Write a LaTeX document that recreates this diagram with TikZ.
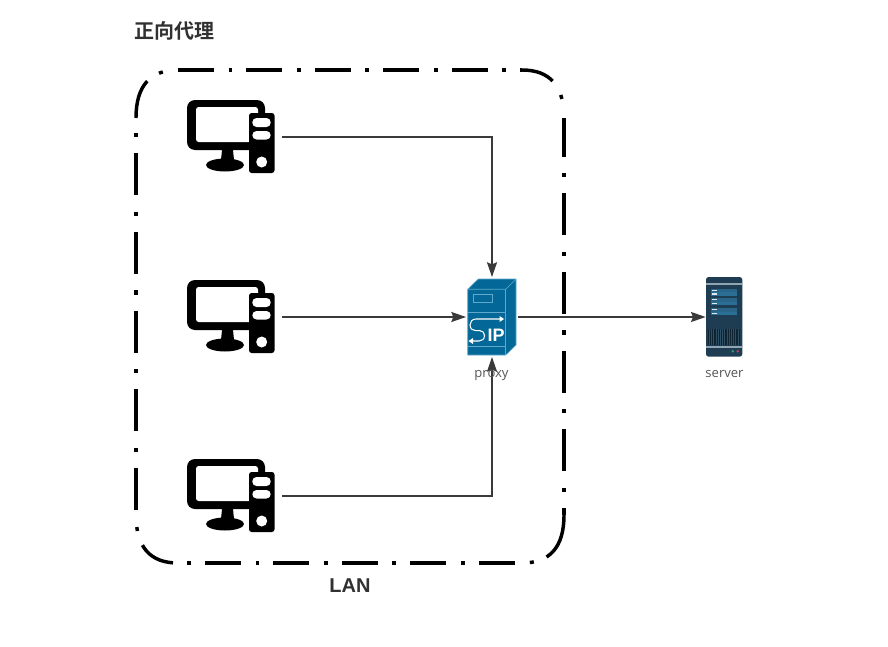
\documentclass[tikz,border=0pt]{standalone}
\usepackage{fontspec}
\setmainfont{Liberation Sans}
\newfontfamily\cjkbold[BoldFont=Noto Sans CJK SC Bold]{Noto Sans CJK SC}
\newfontfamily\labelfont{Open Sans}
\usetikzlibrary{arrows.meta}
\definecolor{inkdark}{HTML}{3A3A3A}
\definecolor{labelgrey}{HTML}{555555}
\definecolor{proxyblue}{HTML}{036897}
\definecolor{proxyedge}{HTML}{5FA9CC}
\definecolor{serverbody}{HTML}{1F3D52}
\definecolor{serverline}{HTML}{8FA5B2}
\definecolor{serverrow}{HTML}{2B6F96}
\definecolor{ventdark}{HTML}{0F2433}
\definecolor{ventline}{HTML}{2F4F64}
\definecolor{ledgreen}{HTML}{2E9E7A}
\definecolor{ledred}{HTML}{C0405A}
\tikzset{
  x=0.75pt,y=-0.75pt,
  hub/.style={inner sep=0pt,outer sep=0pt,minimum width=39pt,minimum height=60pt},
  pcbox/.style={inner sep=0pt,outer sep=0pt,minimum width=76.5pt,minimum height=56pt},
  srvbox/.style={inner sep=0pt,outer sep=0pt,minimum width=27.5pt,minimum height=60pt},
  link/.style={draw=inkdark,line width=1.2pt,-{Stealth[length=11pt,width=7.5pt,inset=1.5pt]}},
  caption/.style={inner sep=0pt,anchor=base,text=labelgrey,font=\labelfont\fontsize{9.8pt}{11pt}\selectfont},
  heading/.style={inner sep=0pt,text=inkdark!85!black},
  lanh/.style={draw=black,line width=2.8pt},
  lanv/.style={draw=black,line width=2.6pt},
  thinw/.style={draw=white,line width=0.8pt,line cap=round,line join=round},
}
\newcommand{\pcicon}[1]{%
  \begin{scope}[shift={(0,#1)}]
    \fill[black,rounded corners=6pt] (187,100) rectangle (265,150);
    \fill[white,rounded corners=2pt] (196,107) rectangle (258,142);
    \fill[black] (222,150) -- (233,150) -- (234,160) -- (221,160) -- cycle;
    \fill[black] (225,165) ellipse [x radius=19,y radius=6.5];
    \fill[black,rounded corners=2pt] (249,113) rectangle (274.5,173);
    \fill[white,rounded corners=3.2pt] (252.3,118) rectangle (270.7,127);
    \fill[white,rounded corners=3.2pt] (252.3,131) rectangle (270.7,139.5);
    \fill[white] (261.7,162) circle [radius=5.5];
  \end{scope}}
\begin{document}
\begin{tikzpicture}
\useasboundingbox (0,0) rectangle (888,646);
\fill[white] (0,0) rectangle (888,646);

% LAN boundary: sides
\draw[lanh,dash pattern=on 27pt off 10.9pt on 2.95pt off 10.5pt] (178,70) -- (522,70);
\draw[lanh,dash pattern=on 27pt off 10.9pt on 2.95pt off 10.5pt,dash phase=31.125pt] (178,563) -- (522,563);
\draw[lanv,dash pattern=on 31.5pt off 12.3pt on 3.08pt off 12.15pt,dash phase=2.55pt] (564,118) -- (564,515);
\draw[lanv,dash pattern=on 31.5pt off 12.3pt on 3.08pt off 12.15pt,dash phase=32.55pt] (136,118) -- (136,515);
% LAN boundary: corners
\draw[lanv,dash pattern=on 29.6pt off 10.7pt on 3pt off 80pt] (136,118) .. controls (136,86) and (150,70) .. (178,70);
\draw[lanv,dash pattern=on 25.1pt off 12.2pt on 3.1pt off 80pt] (522,70) .. controls (550,70) and (564,86) .. (564,118);
\draw[lanv,dash pattern=on 35.6pt off 10.3pt on 3pt off 80pt] (564,515) .. controls (564,547) and (550,563) .. (522,563);
\draw[lanv,dash pattern=on 0pt off 3.75pt on 27.7pt off 11.3pt on 3pt off 80pt] (178,563) .. controls (150,563) and (136,547) .. (136,515);

% Computers
\pcicon{0}\pcicon{180}\pcicon{359}
\node[pcbox] (pc1) at (231,137) {};
\node[pcbox] (pc2) at (231,317) {};
\node[pcbox] (pc3) at (231,496) {};

% Proxy icon
\fill[proxyblue] (467.7,289.3) -- (478.3,279) -- (516,279) -- (516,345) -- (505.7,355) -- (467.7,355) -- cycle;
\begin{scope}[draw=proxyedge,line width=0.5pt]
  \draw (467.7,355) -- (467.7,289.3) -- (478.3,279) -- (516,279) -- (516,345) -- (505.7,355) -- cycle;
  \draw (467.7,289.3) -- (505.7,289.3) -- (516,279);
  \draw (505.7,289.3) -- (505.7,355);
  \draw (473.3,294.7) rectangle (492.3,302.7);
  \draw (467.7,312) -- (505.7,312);
  \draw (467.7,346) -- (505.7,346);
\end{scope}
\draw[thinw] (501,319) -- (476,319) .. controls (472,319) and (470,322) .. (470,325)
  .. controls (470,329) and (473,330.7) .. (476,330.7) -- (480,330.7)
  .. controls (483,330.7) and (484.5,333) .. (484.5,335.7)
  .. controls (484.5,339) and (482,341) .. (479,341) -- (472,341);
\fill[white] (504,319) -- (499.5,316) -- (499.5,322) -- cycle;
\fill[white] (468.5,341) -- (473,338) -- (473,344) -- cycle;
\node[inner sep=0pt,text=white,font=\bfseries\fontsize{13.5pt}{14pt}\selectfont] (iptext) at (496,335.8) {IP};
\node[hub] (proxy) at (492,317) {};

% Server icon
\fill[serverbody,rounded corners=2pt] (706,277) rectangle (742.3,356.7);
\fill[serverline] (706,283) rectangle (742.3,284.6);
\fill[serverline] (706,346) rectangle (742.3,347.6);
\fill[serverrow!80!serverbody] (711,288.7) rectangle (737.3,296);
\fill[serverrow!80!serverbody] (711,298) rectangle (737.3,305.3);
\fill[serverrow!80!serverbody] (711,308) rectangle (737.3,315.3);
\foreach \yy in {292.3,301.6,311.6}
  \fill[serverrow] (711,\yy) rectangle (737.3,\yy+3.7);
\foreach \yy in {290.3,294,299.6,303.3,309.6,313.3}
  \fill[white!85!serverrow] (712,\yy-0.7) rectangle (717,\yy+0.7);
\fill[ventdark] (708,329) rectangle (740,345);
\foreach \xx in {709,711.2,...,739}
  \fill[ventline] (\xx,329) rectangle (\xx+0.7,345);
\fill[ledgreen] (732.7,351.3) circle [radius=1.4];
\fill[ledred] (737.7,351.3) circle [radius=1.4];
\node[srvbox] (server) at (724,317) {};

% Connectors
\draw[link] (pc1.east) -| (proxy.north);
\draw[link] (pc2.east) -- (pc2.east -| proxy.west);
\draw[link] (pc3.east) -| (proxy.south);
\draw[link] (proxy.east) -- (server.west);

% Labels
\node[caption] (proxylabel) at (491.5,377) {proxy};
\node[caption] (serverlabel) at (724.5,377) {server};
\node[heading,anchor=west,font=\cjkbold\bfseries\fontsize{15pt}{18pt}\selectfont] (title) at (134,30.5) {正向代理};
\node[heading,font=\bfseries\fontsize{15pt}{18pt}\selectfont] (lan) at (350,586) {LAN};
\end{tikzpicture}
\end{document}
